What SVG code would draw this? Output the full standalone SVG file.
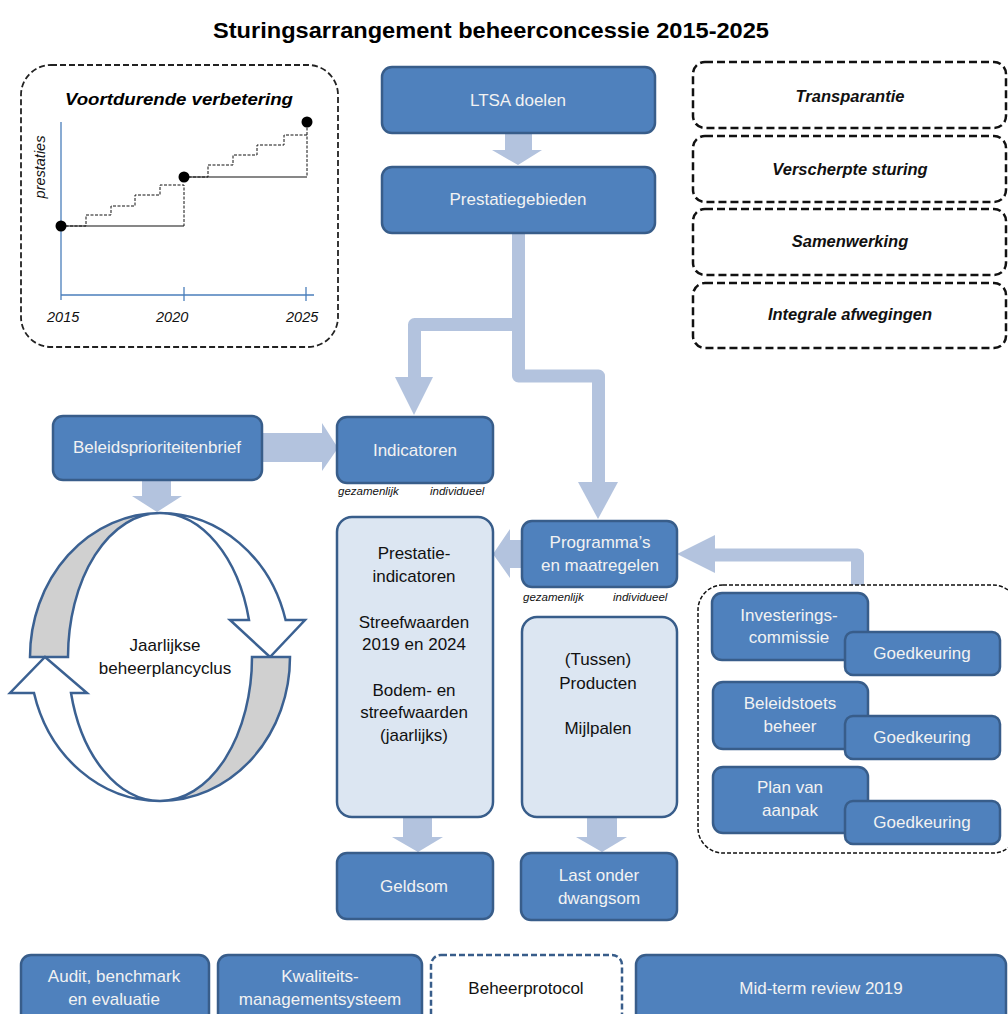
<svg xmlns="http://www.w3.org/2000/svg" width="1008" height="1014" viewBox="0 0 1008 1014">
<defs>
<style>
.box{fill:#4F81BD;stroke:#385D8A;stroke-width:2.5}
.lbox{fill:#DCE6F2;stroke:#385D8A;stroke-width:2.5}
.wt{font-family:"Liberation Sans",Arial,sans-serif;font-size:17px;fill:#F2F2F2;text-anchor:middle}
.bt{font-family:"Liberation Sans",Arial,sans-serif;font-size:17px;fill:#111;text-anchor:middle}
.sm{font-family:"Liberation Sans",Arial,sans-serif;font-size:11.5px;font-style:italic;fill:#111}
.dash{fill:#fff;stroke:#111;stroke-width:2.5;stroke-dasharray:8 4}
.bi{font-family:"Liberation Sans",Arial,sans-serif;font-size:16.5px;font-weight:bold;font-style:italic;fill:#111;text-anchor:middle}
.arr{fill:#B3C3DE}
.shaft{fill:none;stroke:#B3C3DE;stroke-width:13;stroke-linejoin:round}
.cyc{stroke:#3B6192;stroke-width:2.5;stroke-linejoin:miter}
.ax{stroke:#4A7EBB;stroke-width:1.3;fill:none}
.it{font-family:"Liberation Sans",Arial,sans-serif;font-size:14.5px;font-style:italic;fill:#111}
</style>
</defs>
<rect width="1008" height="1014" fill="#fff"/>
<text x="491" y="38" font-family="Liberation Sans,Arial,sans-serif" font-size="22" font-weight="bold" text-anchor="middle" textLength="556" lengthAdjust="spacingAndGlyphs" fill="#000">Sturingsarrangement beheerconcessie 2015-2025</text>

<g id="chart">
<rect x="21" y="65" width="317" height="282" rx="30" fill="#fff" stroke="#222" stroke-width="1.8" stroke-dasharray="6 3"/>
<text x="65" y="105" font-family="Liberation Sans,Arial,sans-serif" font-size="17" font-weight="bold" font-style="italic" textLength="228" lengthAdjust="spacingAndGlyphs" fill="#000">Voortdurende  verbetering</text>
<line class="ax" x1="61" y1="122" x2="61" y2="300"/>
<line class="ax" x1="61" y1="295" x2="314" y2="295"/>
<line class="ax" x1="184" y1="287" x2="184" y2="301"/>
<line class="ax" x1="306" y1="287" x2="306" y2="301"/>
<text class="it" x="47" y="322">2015</text>
<text class="it" x="156" y="322">2020</text>
<text class="it" x="286" y="322">2025</text>
<text class="it" transform="translate(45,167) rotate(-90)" text-anchor="middle">prestaties</text>
<polyline points="61,226 184,226" fill="none" stroke="#111" stroke-width="1.2"/>
<polyline points="184,177 307,177" fill="none" stroke="#111" stroke-width="1.2"/>
<polyline points="61,226 86,226 86,215 111,215 111,206 135,206 135,195 160,195 160,185 184,185 184,226" fill="none" stroke="#111" stroke-width="1" stroke-dasharray="3 1.5"/>
<polyline points="184,177 208,177 208,165 233,165 233,155 257,155 257,145 284,145 284,135 307,135 307,177" fill="none" stroke="#111" stroke-width="1" stroke-dasharray="3 1.5"/>
<line x1="307" y1="135" x2="307" y2="122" stroke="#111" stroke-width="1" stroke-dasharray="3 1.5"/>
<circle cx="61" cy="226" r="5.5" fill="#000"/>
<circle cx="184" cy="177" r="5.5" fill="#000"/>
<circle cx="307" cy="122" r="5.5" fill="#000"/>
</g>

<g id="connectors">
<polygon class="arr" points="505,133 532,133 532,150 542,150 518,165 492,150 505,150"/>
<path class="shaft" d="M518.5,233 V376 H598.5 V483"/>
<path class="shaft" d="M518.5,324.5 H414.5 V378"/>
<polygon class="arr" points="395,377 433,377 414,415"/>
<polygon class="arr" points="578,482 618,482 598,519"/>
<polygon class="arr" points="262,433 322,433 322,423 338,448 322,471 322,462 262,462"/>
<polygon class="arr" points="142,480 171,480 171,496 182,496 157,512 132,496 142,496"/>
<polygon class="arr" points="522,540 510,540 510,529 493,554 510,578 510,568 522,568"/>
<path class="shaft" d="M857.5,585 V555 H713"/>
<polygon class="arr" points="715,535 715,573 677,554"/>
<polygon class="arr" points="403,817 432,817 432,837 443,837 418,852 392,837 403,837"/>
<polygon class="arr" points="587,817 617,817 617,837 627,837 602,852 576,837 587,837"/>
</g>

<g id="ltsa"><rect class="box" x="382" y="67" width="273" height="66" rx="10"/><text class="wt" x="518" y="106">LTSA doelen</text></g>
<g id="prestatiegebieden"><rect class="box" x="382" y="167" width="273" height="66" rx="10"/><text class="wt" x="518" y="205">Prestatiegebieden</text></g>
<g id="beleidsprioriteitenbrief"><rect class="box" x="53" y="416" width="209" height="64" rx="10"/><text class="wt" x="157" y="453">Beleidsprioriteitenbrief</text></g>
<g id="indicatoren"><rect class="box" x="337" y="417" width="156" height="66" rx="10"/><text class="wt" x="415" y="456">Indicatoren</text>
<text class="sm" x="338" y="495">gezamenlijk</text><text class="sm" x="430" y="495">individueel</text></g>
<g id="programmas"><rect class="box" x="522" y="521" width="155" height="66" rx="10"/><text class="wt" x="600" y="548">Programma’s</text><text class="wt" x="600" y="571">en maatregelen</text>
<text class="sm" x="523" y="601">gezamenlijk</text><text class="sm" x="613" y="601">individueel</text></g>

<g id="prestatie-indicatoren"><rect class="lbox" x="337" y="517" width="156" height="300" rx="15"/>
<text class="bt" x="414" y="559">Prestatie-</text><text class="bt" x="414" y="582">indicatoren</text>
<text class="bt" x="414" y="628">Streefwaarden</text><text class="bt" x="414" y="650">2019 en 2024</text>
<text class="bt" x="414" y="696">Bodem- en</text><text class="bt" x="414" y="718">streefwaarden</text><text class="bt" x="414" y="741">(jaarlijks)</text></g>
<g id="producten"><rect class="lbox" x="522" y="617" width="155" height="200" rx="15"/>
<text class="bt" x="598" y="665">(Tussen)</text><text class="bt" x="598" y="689">Producten</text><text class="bt" x="598" y="734">Mijlpalen</text></g>
<g id="geldsom"><rect class="box" x="337" y="853" width="156" height="66" rx="10"/><text class="wt" x="414" y="892">Geldsom</text></g>
<g id="dwangsom"><rect class="box" x="521" y="853" width="156" height="67" rx="10"/><text class="wt" x="599" y="881">Last onder</text><text class="wt" x="599" y="904">dwangsom</text></g>

<g id="cyclus">
<path class="cyc" fill="#D0D0D0" d="M30,657 A130,144 0 0 1 160,513 A92,144 0 0 0 68,657 Z"/>
<path class="cyc" fill="#fff" d="M160,513 A130,144 0 0 1 285.6,620 L305,620 L270,657 L230,620 L249,620 A92,144 0 0 0 160,513 Z"/>
<path class="cyc" fill="#D0D0D0" d="M290,657 A130,144 0 0 1 160,801 A92,144 0 0 0 252,657 Z"/>
<path class="cyc" fill="#fff" d="M160,801 A130,144 0 0 1 34,693 L10,693 L45,657 L87,693 L71,693 A92,144 0 0 0 160,801 Z"/>
<text class="bt" x="165" y="651">Jaarlijkse</text><text class="bt" x="165" y="674">beheerplancyclus</text>
</g>

<g id="transparantie"><rect class="dash" x="693" y="62" width="313" height="66" rx="12"/><text class="bi" x="850" y="102">Transparantie</text></g>
<g id="verscherpte"><rect class="dash" x="693" y="136" width="313" height="66" rx="12"/><text class="bi" x="850" y="175">Verscherpte sturing</text></g>
<g id="samenwerking"><rect class="dash" x="693" y="209" width="313" height="66" rx="12"/><text class="bi" x="850" y="247">Samenwerking</text></g>
<g id="integrale"><rect class="dash" x="693" y="283" width="313" height="65" rx="12"/><text class="bi" x="850" y="320">Integrale afwegingen</text></g>

<g id="goedkeuringsgroep">
<rect x="698" y="585" width="320" height="268" rx="25" fill="none" stroke="#111" stroke-width="1.5" stroke-dasharray="4 2"/>
<rect class="box" x="712" y="593" width="156" height="67" rx="10"/><text class="wt" x="789" y="621">Investerings-</text><text class="wt" x="789" y="643">commissie</text>
<rect class="box" x="845" y="632" width="155" height="43" rx="8"/><text class="wt" x="922" y="659">Goedkeuring</text>
<rect class="box" x="713" y="682" width="155" height="67" rx="10"/><text class="wt" x="790" y="709">Beleidstoets</text><text class="wt" x="790" y="732">beheer</text>
<rect class="box" x="845" y="716" width="155" height="43" rx="8"/><text class="wt" x="922" y="743">Goedkeuring</text>
<rect class="box" x="713" y="767" width="155" height="66" rx="10"/><text class="wt" x="790" y="793">Plan van</text><text class="wt" x="790" y="816">aanpak</text>
<rect class="box" x="845" y="801" width="155" height="43" rx="8"/><text class="wt" x="922" y="828">Goedkeuring</text>
</g>

<g id="audit"><rect class="box" x="21" y="955" width="188" height="80" rx="10"/><text class="wt" x="114" y="982">Audit, benchmark</text><text class="wt" x="114" y="1005">en evaluatie</text></g>
<g id="kwaliteit"><rect class="box" x="218" y="955" width="204" height="80" rx="10"/><text class="wt" x="320" y="982">Kwaliteits-</text><text class="wt" x="320" y="1005">managementsysteem</text></g>
<g id="beheerprotocol"><rect x="431" y="955" width="191" height="80" rx="10" fill="#fff" stroke="#385D8A" stroke-width="2.5" stroke-dasharray="6 3"/><text class="bt" x="526" y="994">Beheerprotocol</text></g>
<g id="midterm"><rect class="box" x="636" y="955" width="370" height="80" rx="10"/><text class="wt" x="821" y="994">Mid-term review 2019</text></g>
</svg>
